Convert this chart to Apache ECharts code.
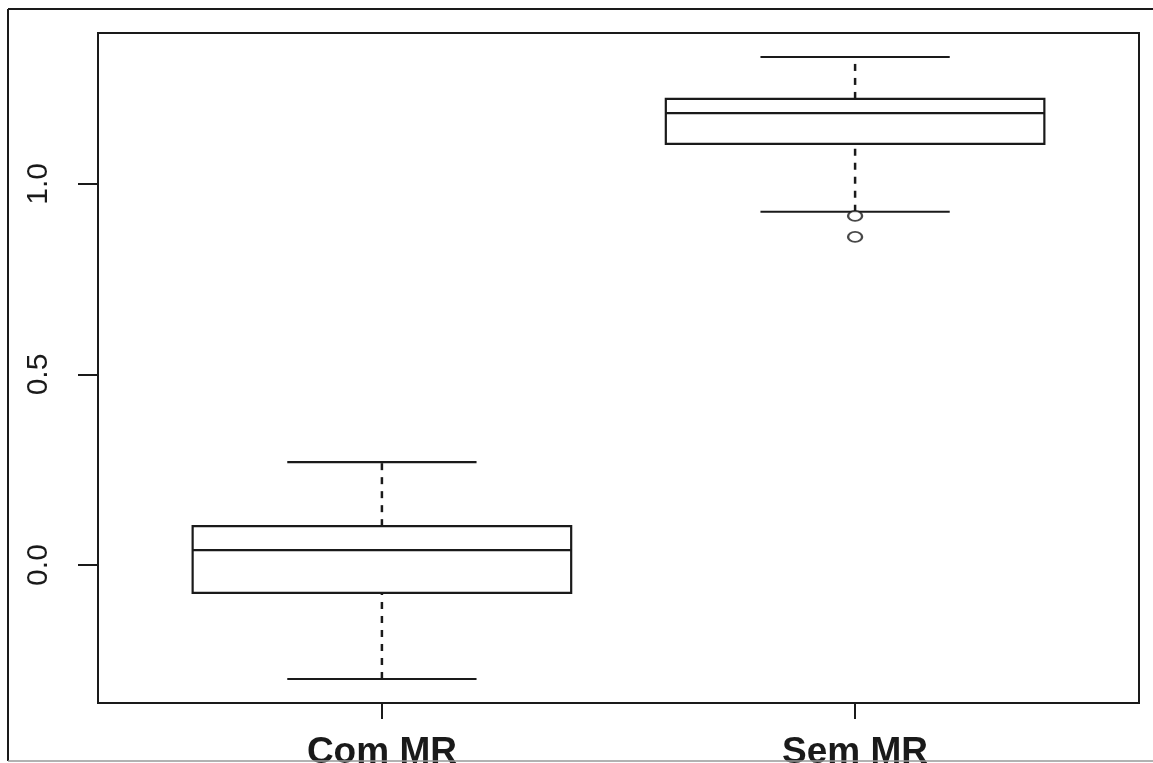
<!DOCTYPE html>
<html>
<head>
<meta charset="utf-8">
<script src="https://cdn.jsdelivr.net/npm/echarts@6/dist/echarts.min.js"></script>
<style>
  html, body { margin: 0; padding: 0; background: #fff; }
  #chart { width: 1153px; height: 763px; }
</style>
</head>
<body>
<div id="chart"></div>
<script>
var categories = ['Com MR', 'Sem MR'];
var lowerWhisker = [-0.299, 0.927];
var q1 = [-0.073, 1.105];
var median = [0.039, 1.186];
var q3 = [0.102, 1.223];
var upperWhisker = [0.270, 1.333];
var outlierGroup = [2, 2];
var outlierValue = [0.916, 0.861];
var yTicks = [0, 0.5, 1.0];

var ink = '#1a1a1a';
var boxWex = 0.8;    // largura da caixa (unidades de x)
var stapleWex = 0.4; // largura das barras dos bigodes

var boxData = [];
for (var i = 0; i < categories.length; i++) {
    boxData.push([i + 1, lowerWhisker[i], q1[i], median[i], q3[i], upperWhisker[i]]);
}
var outData = [];
for (var j = 0; j < outlierValue.length; j++) {
    outData.push([outlierGroup[j], outlierValue[j]]);
}

function renderBox(params, api) {
    var x = api.value(0);
    var lw = api.coord([x, api.value(1)]);
    var b1 = api.coord([x, api.value(2)]);
    var md = api.coord([x, api.value(3)]);
    var b3 = api.coord([x, api.value(4)]);
    var uw = api.coord([x, api.value(5)]);
    var left = api.coord([x - boxWex / 2, 0])[0];
    var right = api.coord([x + boxWex / 2, 0])[0];
    var sl = api.coord([x - stapleWex / 2, 0])[0];
    var sr = api.coord([x + stapleWex / 2, 0])[0];
    var solid = {stroke: ink, lineWidth: 2.2, fill: null};
    var dashed = {stroke: ink, lineWidth: 2.5, lineDash: [7, 7], fill: null};
    return {
        type: 'group',
        children: [
            {type: 'line', shape: {x1: lw[0], y1: lw[1], x2: b1[0], y2: b1[1]}, style: dashed},
            {type: 'line', shape: {x1: b3[0], y1: b3[1], x2: uw[0], y2: uw[1]}, style: dashed},
            {type: 'line', shape: {x1: sl, y1: lw[1], x2: sr, y2: lw[1]}, style: solid},
            {type: 'line', shape: {x1: sl, y1: uw[1], x2: sr, y2: uw[1]}, style: solid},
            {type: 'rect', shape: {x: left, y: b3[1], width: right - left, height: b1[1] - b3[1]}, style: solid},
            {type: 'line', shape: {x1: left, y1: md[1], x2: right, y2: md[1]}, style: solid}
        ]
    };
}

var chart = echarts.init(document.getElementById('chart'));
chart.setOption({
    backgroundColor: '#fff',
    animation: false,
    graphic: [
        {type: 'line', z: 100, shape: {x1: 8, y1: 9, x2: 8, y2: 761}, style: {stroke: ink, lineWidth: 2}},
        {type: 'line', z: 100, shape: {x1: 8, y1: 9, x2: 1153, y2: 9}, style: {stroke: ink, lineWidth: 2}},
        {type: 'line', z: 100, shape: {x1: 8, y1: 761, x2: 1153, y2: 761}, style: {stroke: '#999', lineWidth: 1.5}}
    ],
    grid: {
        left: 98, top: 33, right: 14, bottom: 60,
        outerBoundsMode: 'none',
        containLabel: false,
        show: true, borderColor: ink, borderWidth: 2, backgroundColor: 'transparent'
    },
    xAxis: {
        type: 'value',
        min: 0.4,
        max: 2.6,
        splitLine: {show: false},
        axisLine: {show: true, onZero: false, lineStyle: {color: ink, width: 2}},
        axisTick: {show: true, length: 16, customValues: [1, 2], lineStyle: {color: ink, width: 2}},
        axisLabel: {
            customValues: [1, 2],
            formatter: function(v) { return categories[Math.round(v) - 1]; },
            fontFamily: 'Liberation Sans, Arial, sans-serif',
            fontWeight: 'bold',
            fontSize: 37,
            color: ink,
            margin: 31
        }
    },
    yAxis: {
        type: 'value',
        min: -0.362,
        max: 1.396,
        splitLine: {show: false},
        axisLine: {show: true, onZero: false, lineStyle: {color: ink, width: 2}},
        axisTick: {show: true, length: 20, customValues: yTicks, lineStyle: {color: ink, width: 2}},
        axisLabel: {
            customValues: yTicks,
            formatter: function(v) { return v.toFixed(1); },
            rotate: 90,
            fontFamily: 'Liberation Sans, Arial, sans-serif',
            fontSize: 30,
            color: ink,
            margin: 44
        }
    },
    series: [
        {
            type: 'custom',
            renderItem: renderBox,
            data: boxData,
            encode: {x: 0, y: [1, 2, 3, 4, 5]}
        },
        {
            type: 'scatter',
            symbol: 'emptyCircle',
            symbolSize: [14, 10],
            itemStyle: {color: ink, borderColor: ink, borderWidth: 2.5},
            data: outData
        }
    ]
});
</script>
</body>
</html>
